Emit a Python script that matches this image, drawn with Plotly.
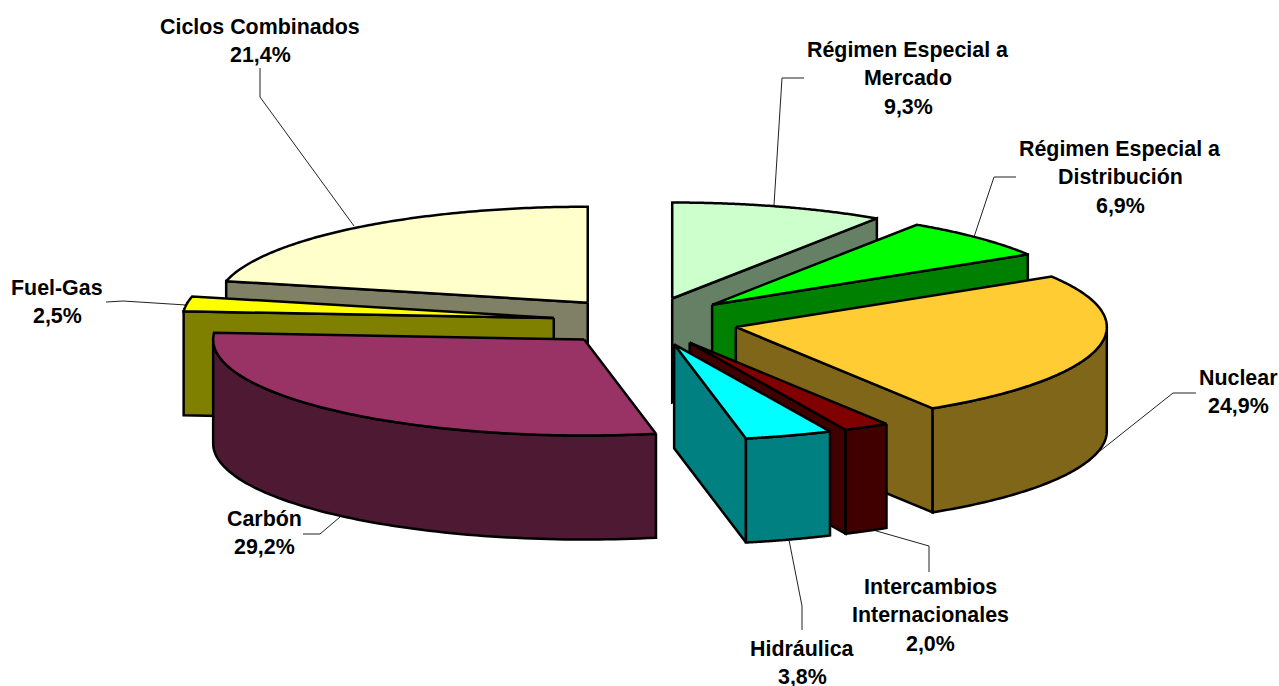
import numpy as np
import plotly.graph_objects as go

categories = ["Régimen Especial a Mercado", "Régimen Especial a Distribución", "Nuclear",
              "Intercambios Internacionales", "Hidráulica", "Carbón", "Fuel-Gas", "Ciclos Combinados"]
values = [9.3, 6.9, 24.9, 2.0, 3.8, 29.2, 2.5, 21.4]

top_colors = ["#CCFFCC", "#00FF00", "#FFCC33", "#800000", "#00FFFF", "#993366", "#FFFF00", "#FFFFCC"]
side_colors = ["#668066", "#008000", "#806619", "#400000", "#008080", "#4D1933", "#808000", "#808066"]
label_lines = [["Régimen Especial a", "Mercado"], ["Régimen Especial a", "Distribución"], ["Nuclear"],
               ["Intercambios", "Internacionales"], ["Hidráulica"], ["Carbón"], ["Fuel-Gas"], ["Ciclos Combinados"]]
label_x = [908, 1120, 1238, 930, 802, 264, 57, 260]
label_y = [50, 149, 378, 587, 649, 519, 288, 27]
leaders = [[(804, 78), (782, 78), (774, 205)], [(1016, 177), (994, 177), (974, 237)],
           [(1196, 393), (1173, 393), (1100, 451)], [(929, 572), (929, 546), (873, 530)],
           [(802, 630), (802, 606), (789, 540)], [(303, 534), (320, 534), (340, 517)],
           [(106, 302), (123, 301), (186, 305)], [(260, 68), (260, 97), (354, 226)]]
draw_order = [7, 0, 1, 2, 6, 5, 3, 4]

CX, CY, A, B, DEPTH, EXPLODE = 645.5, 321.5, 371, 96, 104, 0.25
LINE = 2.5
FONT = "Liberation Sans, Arial, sans-serif"
SIZE = 21.4
LEAD = 28.4

edges = np.cumsum([0] + values) / sum(values) * 2 * np.pi
fig = go.Figure()


def poly(xs, ys, color, name):
    fig.add_trace(go.Scatter(x=list(xs) + [xs[0]], y=list(ys) + [ys[0]], mode="lines", fill="toself",
                             fillcolor=color, line=dict(color="black", width=LINE, simplify=False),
                             name=name, hoverinfo="name", showlegend=False))


for pts in leaders:
    fig.add_trace(go.Scatter(x=[p[0] for p in pts], y=[p[1] for p in pts], mode="lines",
                             line=dict(color="#222222", width=1), hoverinfo="skip", showlegend=False))

for i in draw_order:
    t0, t1 = edges[i], edges[i + 1]
    mid = (t0 + t1) / 2
    cx = CX + EXPLODE * A * np.sin(mid)
    cy = CY - EXPLODE * B * np.cos(mid)
    rim = lambda t: (cx + A * np.sin(t), cy - B * np.cos(t))
    name = categories[i]
    # radial walls facing the viewer
    for t, facing in ((t0, np.sin(t0) < -1e-9), (t1, np.sin(t1) > 1e-9)):
        if facing:
            x, y = rim(t)
            poly([cx, x, x, cx], [cy, y, y + DEPTH, cy + DEPTH], side_colors[i], name)
    # outer wall: only the front half of the rim
    lo, hi = max(t0, np.pi / 2), min(t1, 3 * np.pi / 2)
    if hi > lo:
        ts = np.linspace(lo, hi, 80)
        x, y = rim(ts)
        poly(np.r_[x, x[::-1]], np.r_[y, y[::-1] + DEPTH], side_colors[i], name)
    # top face
    ts = np.linspace(t0, t1, 120)
    x, y = rim(ts)
    poly(np.r_[cx, x], np.r_[cy, y], top_colors[i], name)

for i, cat in enumerate(categories):
    pct = f"{values[i]:.1f}%".replace(".", ",")
    for k, line in enumerate(label_lines[i] + [pct]):
        fig.add_annotation(x=label_x[i], y=label_y[i] + k * LEAD, text=f"<b>{line}</b>", showarrow=False,
                           xanchor="center", yanchor="middle",
                           font=dict(family=FONT, size=SIZE, color="black"))

fig.update_layout(width=1279, height=686, margin=dict(l=0, r=0, t=0, b=0),
                  paper_bgcolor="white", plot_bgcolor="white", showlegend=False,
                  xaxis=dict(range=[0, 1279], visible=False, fixedrange=True),
                  yaxis=dict(range=[686, 0], visible=False, fixedrange=True))
fig.write_html("out.html", config=dict(displayModeBar=False),
               default_width="1279px", default_height="686px",
               post_script="document.body.style.margin='0';")
